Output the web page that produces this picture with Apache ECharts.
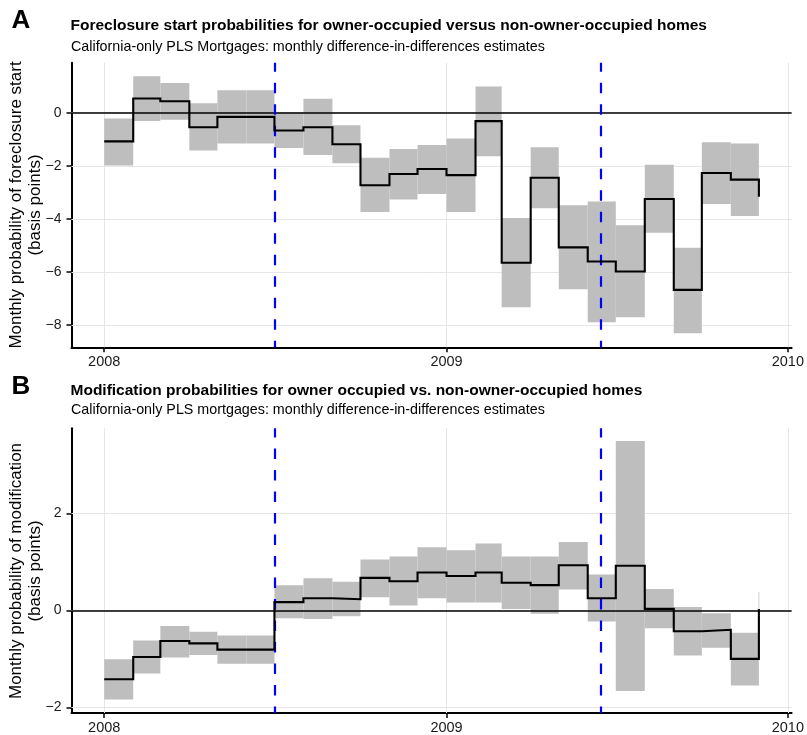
<!DOCTYPE html>
<html>
<head>
<meta charset="utf-8">
<script src="https://cdn.jsdelivr.net/npm/echarts@6/dist/echarts.min.js"></script>
<style>
  html, body { margin: 0; padding: 0; background: #fff; }
  #chart { width: 807px; height: 735px; }
</style>
</head>
<body>
<div id="chart"></div>
<script>
// ---------- data ----------
const months = ['2008-01','2008-02','2008-03','2008-04','2008-05','2008-06','2008-07','2008-08','2008-09','2008-10','2008-11','2008-12',
                '2009-01','2009-02','2009-03','2009-04','2009-05','2009-06','2009-07','2009-08','2009-09','2009-10','2009-11','2009-12'];

// Panel A: foreclosure start (basis points)
const fcEst = [-1.08, 0.53, 0.43, -0.55, -0.16, -0.16, -0.67, -0.55, -1.19, -2.73, -2.31, -2.12,
               -2.35, -0.32, -5.65, -2.45, -5.07, -5.60, -5.98, -3.25, -6.67, -2.27, -2.52, -3.16];
const fcHi  = [-0.22, 1.37, 1.12, 0.35, 0.84, 0.84, 0.02, 0.52, -0.47, -1.70, -1.37, -1.22,
               -0.97, 0.98, -3.96, -1.30, -3.48, -3.34, -4.24, -1.96, -5.08, -1.11, -1.16, null];
const fcLo  = [-1.99, -0.31, -0.27, -1.42, -1.16, -1.16, -1.33, -1.59, -1.90, -3.74, -3.27, -3.06,
               -3.74, -1.64, -7.32, -3.60, -6.65, -7.89, -7.70, -4.52, -8.30, -3.44, -3.89, null];

// Panel B: modification (basis points)
const modEst = [-1.42, -0.96, -0.63, -0.68, -0.81, -0.81, 0.17, 0.25, 0.23, 0.67, 0.60, 0.78,
                0.71, 0.78, 0.57, 0.52, 0.93, 0.25, 0.92, 0.03, -0.43, -0.40, -1.00, 0.03];
const modHi  = [-1.01, -0.62, -0.32, -0.44, -0.52, -0.52, 0.52, 0.66, 0.59, 1.05, 1.11, 1.30,
                1.24, 1.38, 1.11, 1.11, 1.41, 0.74, 3.49, 0.44, 0.07, -0.06, -0.46, 0.38];
const modLo  = [-1.84, -1.30, -0.97, -0.92, -1.10, -1.10, -0.16, -0.18, -0.12, 0.27, 0.10, 0.25,
                0.16, 0.16, 0.03, -0.07, 0.43, -0.23, -1.66, -0.37, -0.93, -0.77, -1.55, -0.35];

// policy dates (blue dashed lines)
const eventDates = ['2008-07-01', '2009-06-15'];

// tick labels
const xTickYears = [2008, 2009, 2010];
const yTicksA = [-8, -6, -4, -2, 0];
const yTicksB = [-2, 0, 2];

// text
const panelLetters = ['A', 'B'];
const titles = ['Foreclosure start probabilities for owner-occupied versus non-owner-occupied homes',
                'Modification probabilities for owner occupied vs. non-owner-occupied homes'];
const subtitles = ['California-only PLS Mortgages: monthly difference-in-differences estimates',
                   'California-only PLS mortgages: monthly difference-in-differences estimates'];
const yNames = [['Monthly probability of foreclosure start', '(basis points)'],
                ['Monthly probability of modification', '(basis points)']];

// ---------- helpers ----------
const FONT = '"Liberation Sans", Arial, Helvetica, sans-serif';
function ts(s) { const p = s.split('-').map(Number); return Date.UTC(p[0], p[1] - 1, p[2] || 1); }
const DAY = 86400000;
const t = months.map(m => ts(m));
const xMin = t[0] - 35 * DAY;
const xMax = t[t.length - 1] + 35 * DAY;
const xTicks = xTickYears.map(y => Date.UTC(y, 0, 1));
const evTs = eventDates.map(ts);

function ciData(lo, hi) {
  const out = [];
  for (let i = 0; i < t.length; i++) {
    if (hi[i] == null || lo[i] == null) continue;
    const x1 = i + 1 < t.length ? t[i + 1] : t[i];
    out.push([t[i], x1, lo[i], hi[i]]);
  }
  return out;
}
function fmtY(v) { return v < 0 ? '\u2212' + Math.abs(v) : String(v); }

const panels = [
  { est: fcEst, lo: fcLo, hi: fcHi, yTicks: yTicksA, top: 62.7, height: 284.6, ymin: -8.83, ymax: 1.88 },
  { est: modEst, lo: modLo, hi: modHi, yTicks: yTicksB, top: 428.3, height: 285.7, ymin: -2.116, ymax: 3.754 }
];

const grids = [], xAxes = [], yAxes = [], series = [], graphics = [];
panels.forEach((p, k) => {
  grids.push({ left: 71.5, right: 11.5, top: p.top, height: p.height, containLabel: false });
  xAxes.push({
    gridIndex: k, type: 'value', min: xMin, max: xMax,
    axisLine: { show: true, onZero: false, lineStyle: { color: '#000', width: 2 } },
    axisTick: { show: true, customValues: xTicks, length: 5, lineStyle: { color: '#000', width: 1.5 } },
    axisLabel: { show: true, customValues: xTicks, formatter: v => String(new Date(v).getUTCFullYear()),
                 fontFamily: FONT, fontSize: 14.5, color: '#1a1a1a', margin: 7 },
    splitLine: { show: false }
  });
  yAxes.push({
    gridIndex: k, type: 'value', min: p.ymin, max: p.ymax,
    axisLine: { show: true, onZero: false, lineStyle: { color: '#000', width: 2 } },
    axisTick: { show: true, customValues: p.yTicks, length: 5, lineStyle: { color: '#000', width: 1.5 } },
    axisLabel: { show: true, customValues: p.yTicks, formatter: fmtY,
                 fontFamily: FONT, fontSize: 14, color: '#1a1a1a', margin: 10 },
    splitLine: { show: false }
  });
  // grid lines
  series.push({
    type: 'line', xAxisIndex: k, yAxisIndex: k, data: [], z: 1, silent: true,
    markLine: {
      z: 1, silent: true, symbol: ['none', 'none'], label: { show: false },
      lineStyle: { color: '#e6e6e6', width: 1, type: 'solid' },
      emphasis: { disabled: true },
      data: p.yTicks.map(v => ({ yAxis: v })).concat(xTicks.map(v => ({ xAxis: v })))
    }
  });
  // confidence rectangles
  series.push({
    type: 'custom', xAxisIndex: k, yAxisIndex: k, z: 2, silent: true, clip: true,
    dimensions: ['x0', 'x1', 'lo', 'hi'],
    encode: { x: [0, 1], y: [2, 3] },
    data: ciData(p.lo, p.hi),
    renderItem: function (params, api) {
      const x0 = api.value(0), x1 = api.value(1), lo = api.value(2), hi = api.value(3);
      const a = api.coord([x0, hi]), b = api.coord([x1, lo]);
      if (x1 === x0) {
        return { type: 'line', shape: { x1: a[0], y1: a[1], x2: b[0], y2: b[1] },
                 style: { stroke: '#d0d0d0', lineWidth: 1 } };
      }
      return { type: 'rect', shape: { x: a[0], y: a[1], width: b[0] - a[0], height: b[1] - a[1] },
               style: { fill: '#bebebe' } };
    }
  });
  // zero line + event lines
  series.push({
    type: 'line', xAxisIndex: k, yAxisIndex: k, data: [], z: 3, silent: true,
    markLine: {
      z: 3, silent: true, symbol: ['none', 'none'], label: { show: false },
      emphasis: { disabled: true },
      data: [
        { yAxis: 0, lineStyle: { color: '#000', width: 1.6, type: 'solid' } }
      ].concat(evTs.map(v => ({ xAxis: v, lineStyle: { color: '#0000ff', width: 2.2, type: [10.5, 11], dashOffset: 4 } })))
    }
  });
  // step line
  series.push({
    type: 'line', xAxisIndex: k, yAxisIndex: k, z: 4, silent: true,
    step: 'end', showSymbol: false, symbol: 'none',
    lineStyle: { color: '#000', width: 2.1, join: 'miter' },
    data: t.map((x, i) => [x, p.est[i]])
  });
});

// texts
const letterY = [21.3, 386.7], titleY = [25.7, 390.3], subY = [46.9, 410.4];
const yNameY = [205, 571];
for (let k = 0; k < 2; k++) {
  graphics.push({ type: 'text', x: 11.5, y: letterY[k],
    style: { text: panelLetters[k], font: 'bold 26px ' + FONT, fill: '#000', verticalAlign: 'middle', textVerticalAlign: 'middle' } });
  graphics.push({ type: 'text', x: 70.5, y: titleY[k],
    style: { text: titles[k], font: 'bold 15.5px ' + FONT, fill: '#000', verticalAlign: 'middle', textVerticalAlign: 'middle' } });
  graphics.push({ type: 'text', x: 71, y: subY[k],
    style: { text: subtitles[k], font: '14.3px ' + FONT, fill: '#000', verticalAlign: 'middle', textVerticalAlign: 'middle' } });
  graphics.push({ type: 'text', x: 16, y: yNameY[k], rotation: Math.PI / 2,
    style: { text: yNames[k][0], font: '17px ' + FONT, fill: '#000', align: 'center', textAlign: 'center', verticalAlign: 'middle', textVerticalAlign: 'middle' } });
  graphics.push({ type: 'text', x: 35, y: yNameY[k], rotation: Math.PI / 2,
    style: { text: yNames[k][1], font: '17px ' + FONT, fill: '#000', align: 'center', textAlign: 'center', verticalAlign: 'middle', textVerticalAlign: 'middle' } });
}

const chart = echarts.init(document.getElementById('chart'), null, { renderer: 'canvas' });
chart.setOption({
  animation: false,
  backgroundColor: '#fff',
  grid: grids,
  xAxis: xAxes,
  yAxis: yAxes,
  series: series,
  graphic: { elements: graphics },
  tooltip: { show: false }
});
</script>
</body>
</html>
